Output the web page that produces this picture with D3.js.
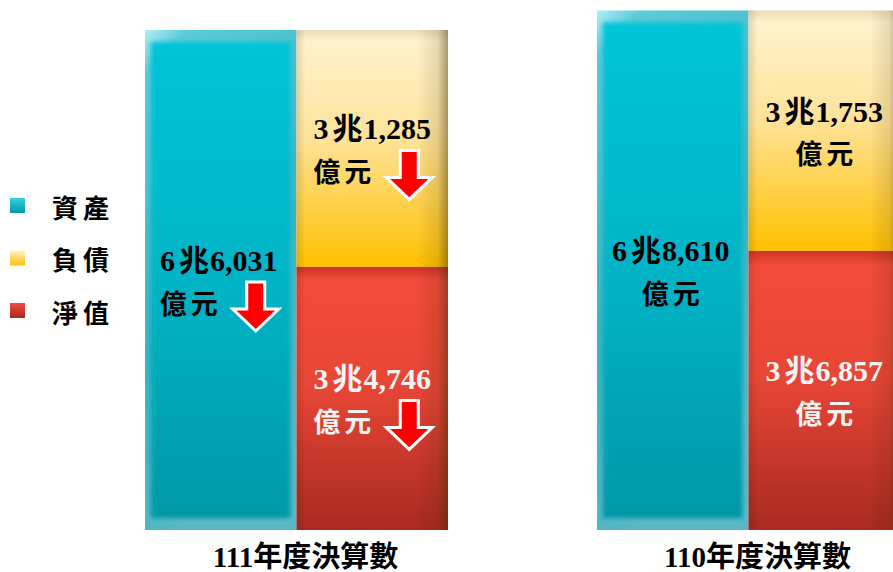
<!DOCTYPE html>
<html>
  <head>
    <meta http-equiv="Content-Type" content="text/html;charset=utf-8"/>
    <script src="https://d3js.org/d3.v7.min.js"></script>
    <style type="text/css">
      body { margin: 0; background: #fff; }
      svg { display: block; }
      .num { font-family: "Liberation Serif", "Noto Sans CJK TC", serif; font-weight: bold; }
      .cjk { font-family: "Noto Sans CJK TC", sans-serif; font-weight: bold; }
    </style>
  </head>
  <body>
    <div id="chart"></div>

    <script type="text/javascript">
      // data (unit: 億元)
      var groups = ["111年度決算數", "110年度決算數"];
      var assets = [66031, 68610];
      var liabilities = [31285, 31753];
      var netWorth = [34746, 36857];
      var legendNames = ["資產", "負債", "淨值"];

      var W = 893, H = 572;
      var svg = d3.select('#chart').append('svg').attr('width', W).attr('height', H);
      var defs = svg.append('defs');

      function grad(id, stops, x2, y2) {
        var g = defs.append('linearGradient').attr('id', id)
          .attr('x1', 0).attr('y1', 0).attr('x2', x2).attr('y2', y2);
        stops.forEach(function(s) {
          g.append('stop').attr('offset', s[0]).attr('stop-color', s[1]).attr('stop-opacity', s[2] == null ? 1 : s[2]);
        });
      }
      grad('tealOuter', [[0, '#b0eef6'], [0.08, '#5ccad8'], [0.6, '#38b4c2'], [1, '#5ab8c4']], 0.3, 1);
      grad('tealInner', [[0, '#00c4d8'], [0.5, '#00b4c6'], [1, '#0098a8']], 0, 1);
      grad('yellow', [[0, '#e8dcb8'], [0.05, '#fff2cc'], [0.45, '#ffe39a'], [1, '#ffc000']], 0, 1);
      grad('red', [[0, '#c83426'], [0.05, '#f24b3b'], [0.45, '#e84636'], [1, '#a82a20']], 0, 1);
      grad('rightShade', [[0, '#000', 0], [0.8, '#000', 0], [0.93, '#3a2a00', 0.12], [1, '#3a2a00', 0.45]], 1, 0);
      grad('leftShade', [[0, '#000', 0.12], [0.06, '#000', 0], [1, '#000', 0]], 1, 0);
      grad('lgTeal', [[0, '#3ad0e0'], [1, '#0098a8']], 0, 1);
      grad('lgYellow', [[0, '#fff2cc'], [1, '#ffc000']], 0, 1);
      grad('lgRed', [[0, '#f24b3b'], [1, '#a82a20']], 0, 1);
      defs.append('filter').attr('id', 'soft').append('feGaussianBlur').attr('stdDeviation', 2);

      // scales
      var y = d3.scaleLinear().domain([0, assets[0]]).range([530, 30]);
      var x = d3.scaleBand().domain(groups).range([145, 900]).paddingInner(0.3296).paddingOuter(0);
      var sub = d3.scaleBand().domain(['asset', 'stack']).range([0, x.bandwidth()]);
      var bw = sub.bandwidth();

      function arrow(g, cx, top) {
        var h = 49, hw = 23, sw = 9, headY = top + 27;
        var pts = [[cx - sw, top], [cx + sw, top], [cx + sw, headY], [cx + hw, headY],
                   [cx, top + h], [cx - hw, headY], [cx - sw, headY]];
        g.append('polygon').attr('points', pts.map(function(p) { return p.join(','); }).join(' '))
          .attr('fill', '#ff0000').attr('stroke', '#fff').attr('stroke-width', 3)
          .attr('stroke-linejoin', 'miter');
      }

      function label(g, cx, mid, v, color, down) {
        var t1 = g.append('text').attr('class', 'num').attr('x', cx).attr('y', mid - 20)
          .attr('text-anchor', 'middle').attr('dominant-baseline', 'central')
          .attr('font-size', 30).attr('fill', color);
        t1.append('tspan').text(Math.floor(v / 10000));
        t1.append('tspan').attr('dx', 4).text('兆');
        t1.append('tspan').attr('dx', 1).text(d3.format(',')(v % 10000));
        var t2 = g.append('text').attr('class', 'cjk').attr('y', mid + 22)
          .attr('dominant-baseline', 'central').attr('font-size', 27)
          .attr('letter-spacing', 4).attr('fill', color).text('億元');
        if (down) {
          t2.attr('x', cx - 28).attr('text-anchor', 'middle');
          arrow(g, cx + 37, mid + 2);
        } else {
          t2.attr('x', cx + 2).attr('text-anchor', 'middle');
        }
      }

      var bars = svg.append('g');
      groups.forEach(function(name, i) {
        var gx = x(name);
        var g = bars.append('g');
        // asset bar
        var ax = gx + sub('asset'), top = y(assets[i]), bot = y(0);
        g.append('rect').attr('x', ax).attr('y', top).attr('width', bw).attr('height', bot - top)
          .attr('fill', 'url(#tealOuter)');
        g.append('rect').attr('x', ax + 6).attr('y', top + 12).attr('width', bw - 12).attr('height', bot - top - 24)
          .attr('fill', 'url(#tealInner)').attr('filter', 'url(#soft)');
        // stacked liabilities + net worth
        var sx = gx + sub('stack');
        var yTop = y(liabilities[i] + netWorth[i]), yMid = y(netWorth[i]);
        g.append('rect').attr('x', sx).attr('y', yTop).attr('width', bw).attr('height', yMid - yTop)
          .attr('fill', 'url(#yellow)');
        g.append('rect').attr('x', sx).attr('y', yMid).attr('width', bw).attr('height', bot - yMid)
          .attr('fill', 'url(#red)');
        g.append('rect').attr('x', sx).attr('y', yTop).attr('width', bw).attr('height', bot - yTop)
          .attr('fill', 'url(#rightShade)');
        g.append('rect').attr('x', sx).attr('y', yTop).attr('width', bw).attr('height', bot - yTop)
          .attr('fill', 'url(#leftShade)');

        var prev = i + 1 < groups.length ? i + 1 : -1;
        var dn = function(arr) { return prev >= 0 && arr[i] < arr[prev]; };
        label(g, ax + bw / 2 - 2, (top + bot) / 2, assets[i], '#000', dn(assets));
        label(g, sx + bw / 2, (yTop + yMid) / 2, liabilities[i], '#000', dn(liabilities));
        label(g, sx + bw / 2, (yMid + bot) / 2, netWorth[i], '#f4f4f4', dn(netWorth));

        svg.append('text').attr('class', 'num').attr('x', gx + x.bandwidth() / 2 + 9).attr('y', 557)
          .attr('text-anchor', 'middle').attr('dominant-baseline', 'central')
          .attr('font-size', 29).attr('fill', '#000').text(name);
      });

      // legend
      var lgFills = ['url(#lgTeal)', 'url(#lgYellow)', 'url(#lgRed)'];
      var lg = svg.append('g').selectAll('g').data(legendNames).enter().append('g')
        .attr('transform', function(d, i) { return 'translate(10,' + (198 + i * 52.5) + ')'; });
      lg.append('rect').attr('width', 15).attr('height', 15)
        .attr('fill', function(d, i) { return lgFills[i]; });
      lg.append('text').attr('class', 'cjk').attr('x', 42).attr('y', 8)
        .attr('dominant-baseline', 'central').attr('font-size', 26).attr('letter-spacing', 5)
        .attr('fill', '#000').text(function(d) { return d; });
    </script>
  </body>
</html>
